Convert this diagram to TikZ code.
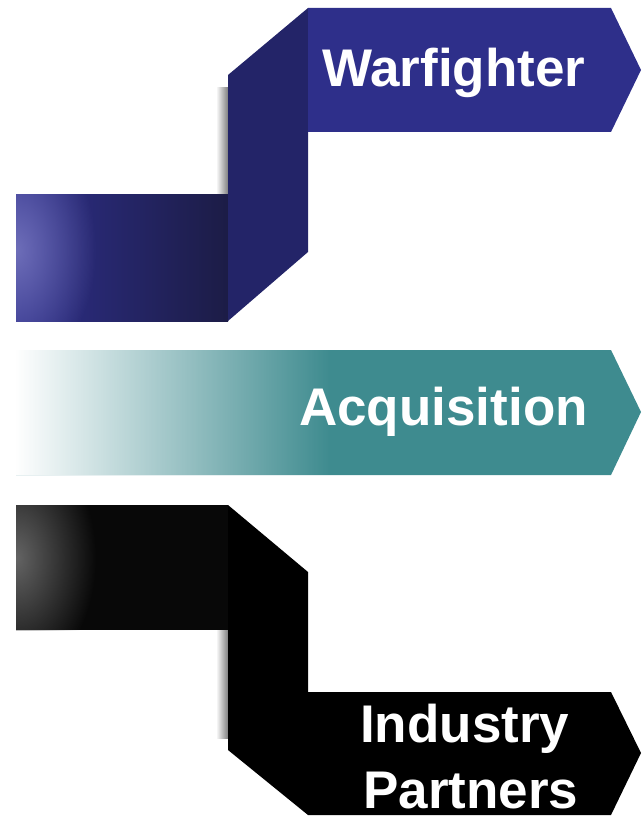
\documentclass[tikz,border=0pt]{standalone}
\usepackage{fontspec}
\setmainfont{Liberation Sans}
\definecolor{warfighter-navy}{RGB}{46,47,138}
\definecolor{fold-navy}{RGB}{35,36,104}
\definecolor{dark-navy}{RGB}{28,28,70}
\definecolor{pale-navy}{RGB}{110,110,185}
\definecolor{acquisition-teal}{RGB}{62,139,143}
\definecolor{industry-grey}{RGB}{100,100,100}
\usetikzlibrary{fadings}
\usetikzlibrary{positioning}
\tikzfading[name=glow fade,inner color=transparent!0,outer color=transparent!100]
\tikzfading[name=teal fade,left color=transparent!0,right color=transparent!100]

\begin{document}
\begin{tikzpicture}[%
    x=1pt,y=-1pt,
    bannertext/.style={text=white,font=\fontsize{53}{63}\selectfont\bfseries,
      inner sep=0pt,anchor=base west},
    foldshadow/.style={left color=white,right color=black!50},
    glowspot/.style={path fading=glow fade}
  ]
  \def\xL{16}  % left edge
  \def\xF{228} % fold
  \def\xB{308} % banner start
  \def\xE{611} % banner end
  \def\xT{641} % tip

  \useasboundingbox (0,0) rectangle (641,818);

  % warfighter
  \shade [foldshadow] (216,88) rectangle (\xF,195);
  \shade [left color=warfighter-navy,right color=dark-navy] (\xL,195) rectangle (\xF,321);
  \begin{scope}
    \clip (\xL,195) rectangle (\xF,321);
    \fill [pale-navy,glowspot] (\xL,250) ellipse (80 and 120);
  \end{scope}
  \fill [fold-navy] (\xF,75) -- (\xB,8) -- (\xB,252) -- (\xF,321) -- cycle;
  \fill [warfighter-navy] (\xB,8) -- (\xE,8) -- (\xT,70) -- (\xE,132) -- (\xB,132) -- cycle;
  \node [bannertext] (warfighter) at (322,87) {Warfighter};

  % acquisition
  \fill [acquisition-teal] (\xL,350) -- (\xE,350) -- (\xT,412) -- (\xE,475) -- (\xL,475) -- cycle;
  \fill [white,path fading=teal fade] (\xL,350) rectangle (330,475);
  \node [bannertext] (acquisition) at (299,425) {Acquisition};

  % industry partners
  \shade [foldshadow] (216,630) rectangle (\xF,738);
  \fill [black!97] (\xL,505) rectangle (\xF,630);
  \begin{scope}
    \clip (\xL,505) rectangle (\xF,630);
    \fill [industry-grey,glowspot] (\xL,558) ellipse (80 and 120);
  \end{scope}
  \fill [black] (\xF,505) -- (\xB,572) -- (\xB,692) -- (\xE,692) -- (\xT,753)
    -- (\xE,815) -- (\xB,815) -- (\xF,750) -- cycle;
  \node [bannertext] (industry) at (360,742) {Industry};
  \node [bannertext] (partners) at (363,808) {Partners};
\end{tikzpicture}
\end{document}
